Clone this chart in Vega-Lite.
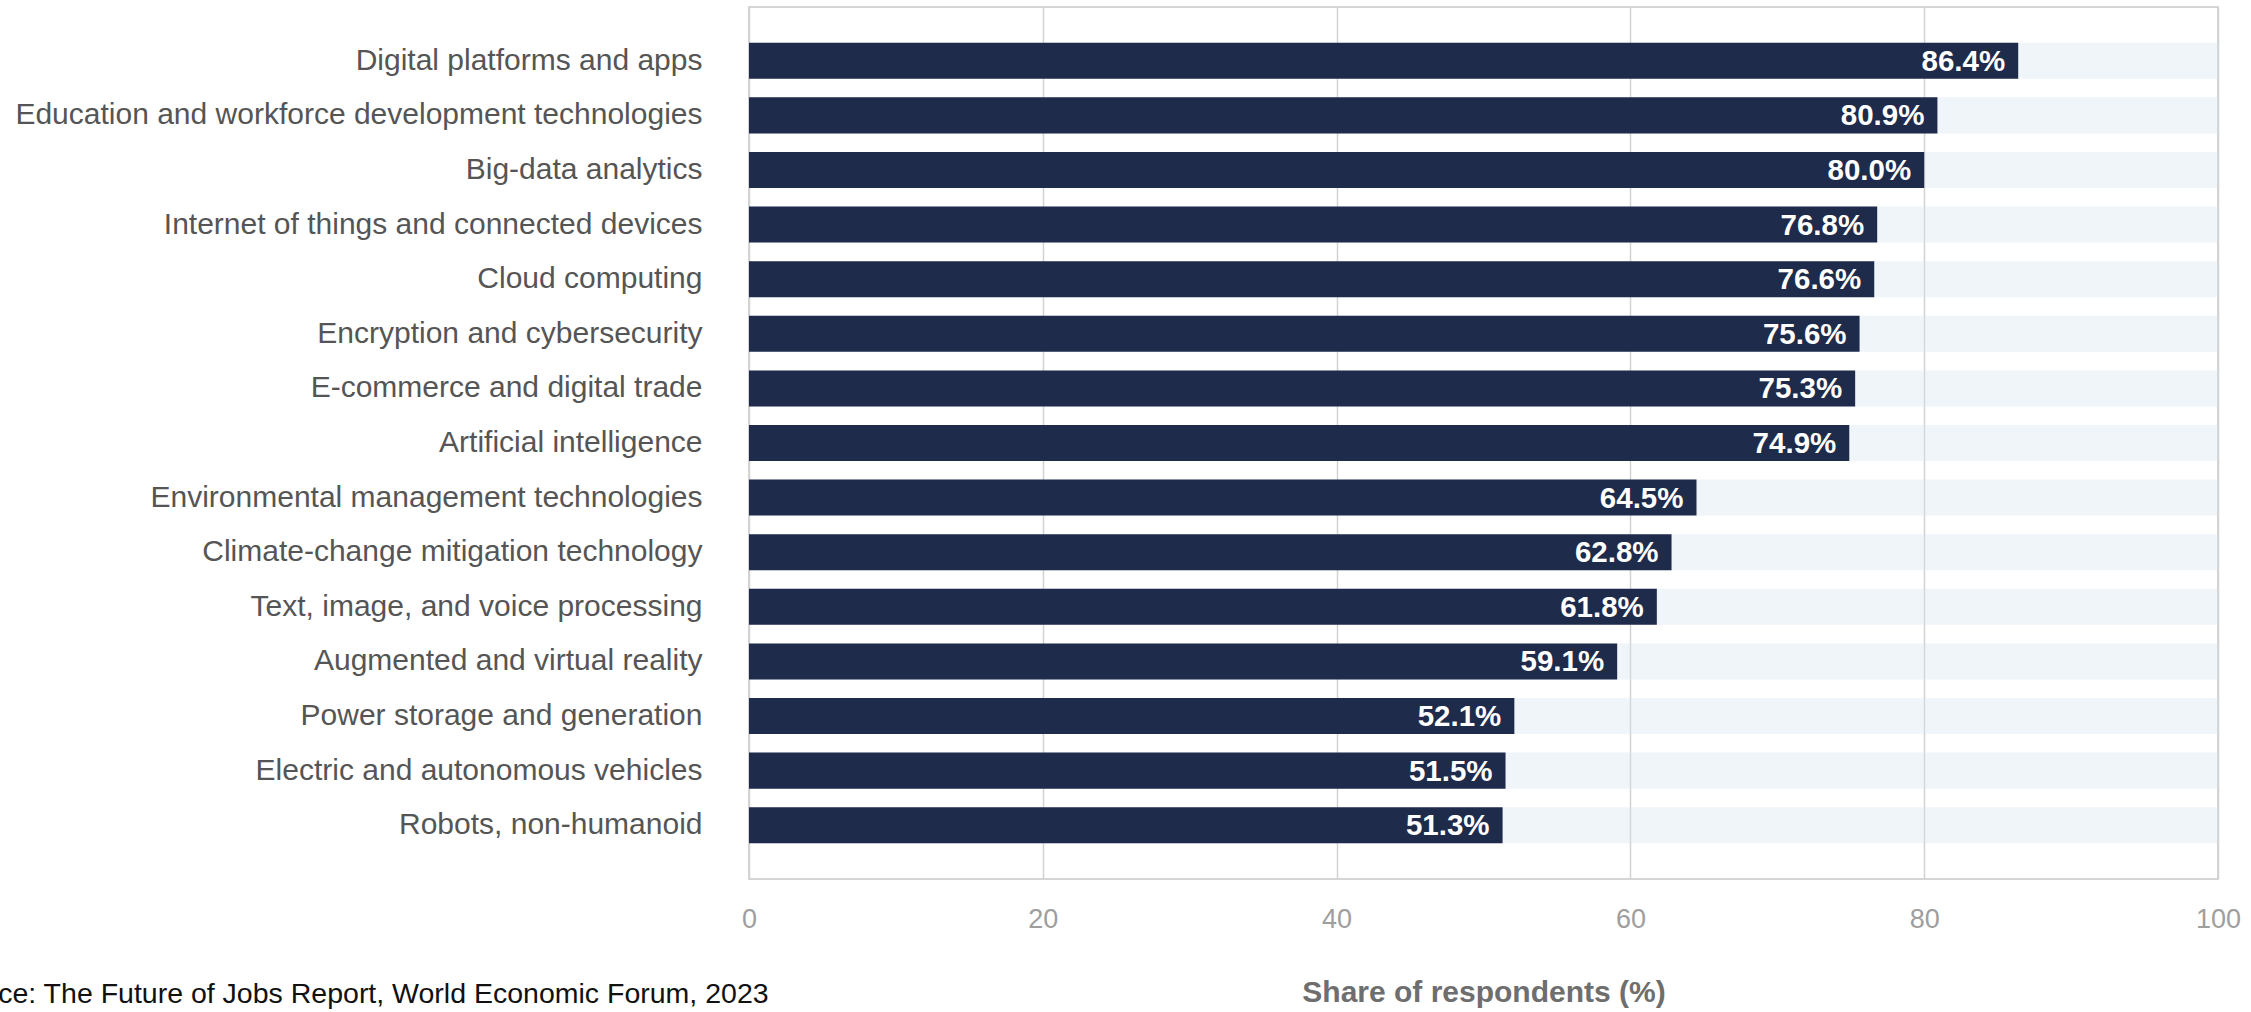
{
  "$schema": "https://vega.github.io/schema/vega-lite/v6.json",
  "width": 1469,
  "height": 872,
  "autosize": {"type": "none"},
  "padding": {"left": 749, "top": 7, "right": 33, "bottom": 133},
  "background": "#ffffff",
  "title": {
    "text": "Source: The Future of Jobs Report, World Economic Forum, 2023",
    "orient": "bottom",
    "anchor": "start",
    "frame": "group",
    "dx": -811,
    "offset": -27,
    "font": "Liberation Sans",
    "fontSize": 28.5,
    "fontWeight": "normal",
    "color": "#111111"
  },
  "config": {
    "view": {"stroke": "#c8c8c8", "strokeWidth": 1.5},
    "font": "Liberation Sans"
  },
  "data": {
    "values": [
      {"technology": "Digital platforms and apps", "share": 86.4, "label": "86.4%", "full": 100},
      {"technology": "Education and workforce development technologies", "share": 80.9, "label": "80.9%", "full": 100},
      {"technology": "Big-data analytics", "share": 80.0, "label": "80.0%", "full": 100},
      {"technology": "Internet of things and connected devices", "share": 76.8, "label": "76.8%", "full": 100},
      {"technology": "Cloud computing", "share": 76.6, "label": "76.6%", "full": 100},
      {"technology": "Encryption and cybersecurity", "share": 75.6, "label": "75.6%", "full": 100},
      {"technology": "E-commerce and digital trade", "share": 75.3, "label": "75.3%", "full": 100},
      {"technology": "Artificial intelligence", "share": 74.9, "label": "74.9%", "full": 100},
      {"technology": "Environmental management technologies", "share": 64.5, "label": "64.5%", "full": 100},
      {"technology": "Climate-change mitigation technology", "share": 62.8, "label": "62.8%", "full": 100},
      {"technology": "Text, image, and voice processing", "share": 61.8, "label": "61.8%", "full": 100},
      {"technology": "Augmented and virtual reality", "share": 59.1, "label": "59.1%", "full": 100},
      {"technology": "Power storage and generation", "share": 52.1, "label": "52.1%", "full": 100},
      {"technology": "Electric and autonomous vehicles", "share": 51.5, "label": "51.5%", "full": 100},
      {"technology": "Robots, non-humanoid", "share": 51.3, "label": "51.3%", "full": 100}
    ]
  },
  "encoding": {
    "y": {
      "field": "technology",
      "type": "nominal",
      "sort": null,
      "scale": {"paddingInner": 0.34, "paddingOuter": 0.655},
      "axis": {
        "title": null,
        "ticks": false,
        "domain": false,
        "labelFontSize": 30,
        "labelColor": "#555555",
        "labelPadding": 47,
        "labelLimit": 1000
      }
    }
  },
  "layer": [
    {
      "mark": {"type": "bar", "color": "#d6e2f1", "opacity": 0.36},
      "encoding": {
        "x": {
          "field": "full",
          "type": "quantitative",
          "scale": {"domain": [0, 100]},
          "axis": {
            "title": "Share of respondents (%)",
            "values": [0, 20, 40, 60, 80, 100],
            "grid": true,
            "gridColor": "#d2d2d2",
            "gridWidth": 1.5,
            "ticks": false,
            "domain": false,
            "labelFontSize": 27,
            "labelColor": "#9e9e9e",
            "labelPadding": 27,
            "labelFlush": false,
            "titleFontSize": 30,
            "titleFontWeight": "bold",
            "titleColor": "#6e6e6e",
            "titlePadding": 45
          }
        }
      }
    },
    {
      "mark": {"type": "bar", "color": "#1f2b4b"},
      "encoding": {
        "x": {"field": "share", "type": "quantitative"}
      }
    },
    {
      "mark": {
        "type": "text",
        "align": "right",
        "baseline": "middle",
        "dx": -13,
        "dy": 1,
        "color": "#ffffff",
        "fontSize": 29.5,
        "fontWeight": "bold"
      },
      "encoding": {
        "x": {"field": "share", "type": "quantitative"},
        "text": {"field": "label", "type": "nominal"}
      }
    }
  ]
}
